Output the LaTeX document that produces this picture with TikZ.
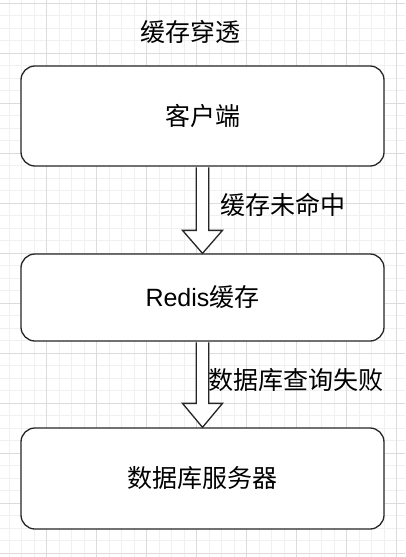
\documentclass[tikz,border=0pt]{standalone}
\usepackage{fontspec}
\setmainfont{Noto Sans CJK SC}
\newfontfamily\latinfont{Liberation Sans}
\definecolor{gridminor}{HTML}{F0F0F0}
\definecolor{gridmajor}{HTML}{DCDCDC}
\definecolor{edge}{HTML}{262626}
\begin{document}
\begin{tikzpicture}[x=1pt,y=-1pt,
  box/.style={draw=edge, line width=1.3pt, rounded corners=14pt, fill=white,
    minimum width=363pt, inner sep=0pt, font=\fontsize{25}{30}\selectfont},
  lbl/.style={font=\fontsize{25}{30}\selectfont, inner sep=0pt},
  barrow/.style={draw=edge, line width=1.3pt, fill=white, line join=miter},
  minorgrid/.style={draw=gridminor, line width=0.8pt},
  majorgrid/.style={draw=gridmajor, line width=0.8pt}]
\useasboundingbox (0,0) rectangle (405,557);
\fill[white] (0,0) rectangle (405,557);
\foreach \i in {0,...,33} {
  \draw[minorgrid] ({-3.3+12.5*\i},0) -- ++(0,557);
}
\foreach \i in {0,...,45} {
  \draw[minorgrid] (0,{3.3+12.5*\i}) -- ++(405,0);
}
\foreach \i in {0,...,8} {
  \draw[majorgrid] ({-3.3+50*\i},0) -- ++(0,557);
}
\foreach \i in {0,...,11} {
  \draw[majorgrid] (0,{3.3+50*\i}) -- ++(405,0);
}
\node[lbl] (title) at (190,32) {缓存穿透};
\node[box, minimum height=100pt] (c1) at (202.5,116) {客户端};
\node[box, minimum height=87pt] (c2) at (202.5,297.5) {{\latinfont Redis}缓存};
\node[box, minimum height=101pt] (c3) at (202.5,478.5) {数据库服务器};
\draw[barrow] ([xshift=-6.2pt,yshift=-0.65pt]c1.south) -- ([xshift=-6.2pt,yshift=23pt]c2.north)
  -- ([xshift=-20pt,yshift=23pt]c2.north) -- (c2.north)
  -- ([xshift=20pt,yshift=23pt]c2.north) -- ([xshift=6.2pt,yshift=23pt]c2.north)
  -- ([xshift=6.2pt,yshift=-0.65pt]c1.south);
\draw[barrow] ([xshift=-6.2pt,yshift=-0.65pt]c2.south) -- ([xshift=-6.2pt,yshift=24pt]c3.north)
  -- ([xshift=-20pt,yshift=24pt]c3.north) -- (c3.north)
  -- ([xshift=20pt,yshift=24pt]c3.north) -- ([xshift=6.2pt,yshift=24pt]c3.north)
  -- ([xshift=6.2pt,yshift=-0.65pt]c2.south);
\node[lbl] (l1) at (283,205) {缓存未命中};
\node[lbl] (l2) at (296,380) {数据库查询失败};
\end{tikzpicture}
\end{document}
